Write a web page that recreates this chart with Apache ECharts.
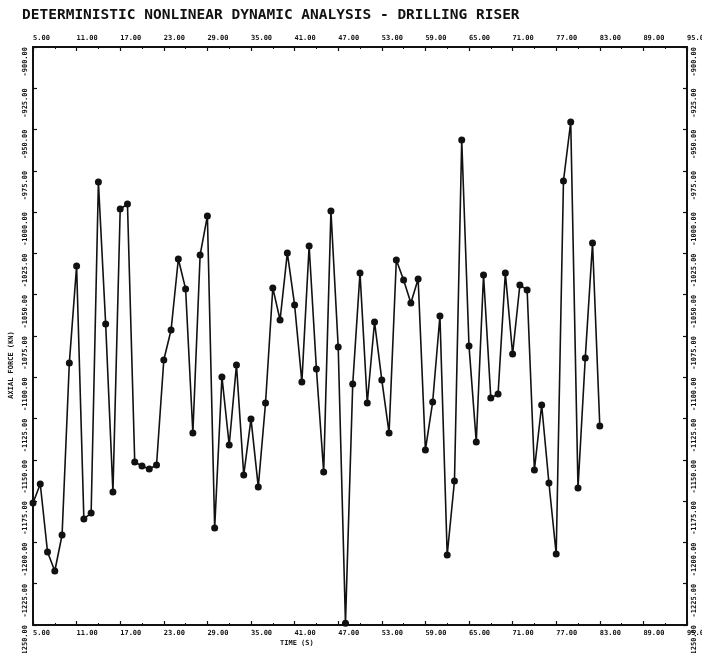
<!DOCTYPE html>
<html>
<head>
<meta charset="utf-8">
<script src="https://cdn.jsdelivr.net/npm/echarts@6/dist/echarts.min.js"></script>
<style>
html,body{margin:0;padding:0;background:#fff;overflow:hidden;width:702px;height:653px;}
#chart{width:702px;height:653px;display:block;}
</style>
</head>
<body>
<div id="chart"></div>
<script>
// Time (s)
const timeValues = [5,6,7,8,9,10,11,12,13,14,15,16,17,18,19,20,21,22,23,24,25,26,27,28,29,30,31,32,33,34,35,36,37,38,39,40,41,42,43,44,45,46,47,48,49,50,51,52,53,54,55,56,57,58,59,60,61,62,63,64,65,66,67,68,69,70,71,72,73,74,75,76,77,78,79,80,81,82,83];
// Axial force (kN)
const axialForce = [-1176.1,-1164.6,-1205.8,-1217.3,-1195.5,-1091.3,-1032.6,-1185.8,-1182.2,-981.7,
  -1067.7,-1169.4,-998.1,-995.1,-1151.3,-1153.7,-1155.5,-1153.1,-1089.5,-1071.4,
  -1028.4,-1046.5,-1133.7,-1025.9,-1002.3,-1191.2,-1099.8,-1141.0,-1092.5,-1159.2,
  -1125.2,-1166.4,-1115.6,-1045.9,-1065.3,-1024.7,-1056.2,-1102.8,-1020.5,-1095.0,
  -1157.3,-999.3,-1081.7,-1249.0,-1104.1,-1036.8,-1115.6,-1066.5,-1101.6,-1133.7,
  -1029.0,-1041.1,-1055.0,-1040.5,-1144.0,-1115.0,-1062.9,-1207.6,-1162.8,-956.3,
  -1081.0,-1139.2,-1038.1,-1112.5,-1110.1,-1036.8,-1085.9,-1044.1,-1047.1,-1156.1,
  -1116.8,-1164.0,-1207.0,-981.1,-945.4,-1167.0,-1088.3,-1018.7,-1129.5];
const xTicks = {min:5, max:95, step:6};
const yTicks = {min:-1250, max:-900, step:25};
const titleText = 'DETERMINISTIC NONLINEAR DYNAMIC ANALYSIS - DRILLING RISER';
const xName = 'TIME (S)';
const yName = 'AXIAL FORCE (KN)';

const ink = '#111';
const lblFont = {color: ink, fontSize: 7, fontWeight: 'bold', fontFamily: 'DejaVu Sans Mono'};
function fmt(v){ return v.toFixed(2); }

const chart = echarts.init(document.getElementById('chart'), null, {renderer:'canvas', width:702, height:653});
const baseX = {
  type:'value', min:xTicks.min, max:xTicks.max, interval:xTicks.step,
  axisLine:{show:true, onZero:false, lineStyle:{color:ink, width:2}},
  axisTick:{show:true, inside:true, length:4, lineStyle:{color:ink, width:1.2}},
  minorTick:{show:true, splitNumber:2, length:2, lineStyle:{color:ink}},
  splitLine:{show:false},
  axisLabel:Object.assign({formatter:fmt, align:'left', margin:5, showMinLabel:true, showMaxLabel:true}, lblFont)
};
const baseY = {
  type:'value', min:yTicks.min, max:yTicks.max, interval:yTicks.step,
  axisLine:{show:true, onZero:false, lineStyle:{color:ink, width:2}},
  axisTick:{show:true, inside:true, length:4, lineStyle:{color:ink, width:1.2}},
  splitLine:{show:false},
  axisLabel:Object.assign({formatter:fmt, rotate:90, margin:4, showMinLabel:true, showMaxLabel:true}, lblFont)
};
const option = {
  backgroundColor:'#fff',
  animation:false,
  grid:{left:33, right:15, top:47, bottom:28, containLabel:false, outerBoundsMode:'none'},
  xAxis:[
    Object.assign({}, baseX, {position:'bottom'}),
    Object.assign({}, baseX, {position:'top', axisLabel:Object.assign({}, baseX.axisLabel, {margin:5})})
  ],
  yAxis:[
    Object.assign({}, baseY, {position:'left', axisLabel:Object.assign({}, baseY.axisLabel, {align:'right', verticalAlign:'bottom'})}),
    Object.assign({}, baseY, {position:'right', axisLabel:Object.assign({}, baseY.axisLabel, {align:'right', verticalAlign:'top'})})
  ],
  graphic:[
    {type:'text', left:22, top:8, style:{text:titleText, fill:ink, font:'bold 14.5px "DejaVu Sans Mono"'}},
    {type:'text', left:280, top:640, style:{text:xName, fill:ink, font:'bold 7px "DejaVu Sans Mono"'}},
    {type:'text', x:15, y:365, rotation:Math.PI/2, style:{text:yName, fill:ink, font:'bold 7px "DejaVu Sans Mono"', align:'center', verticalAlign:'bottom'}}
  ],
  series:[{
    type:'line',
    xAxisIndex:0, yAxisIndex:0,
    data: timeValues.map((t,i)=>[t, axialForce[i]]),
    symbol:'circle', symbolSize:7,
    lineStyle:{color:ink, width:1.6},
    itemStyle:{color:ink},
    clip:false
  }]
};
chart.setOption(option);
</script>
</body>
</html>
